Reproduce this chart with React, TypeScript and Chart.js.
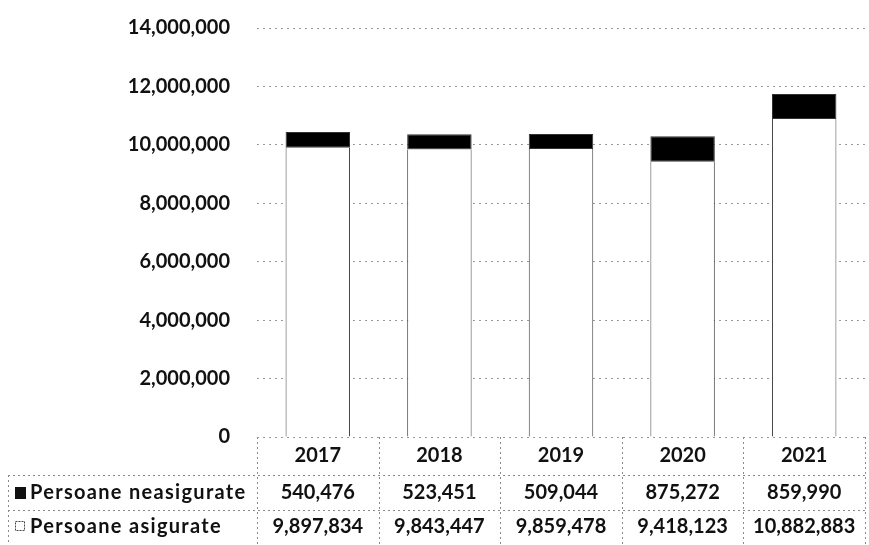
import React, { useEffect, useRef } from "react";
import { Chart, registerables } from "chart.js";

Chart.register(...registerables);

const categories = ["2017", "2018", "2019", "2020", "2021"];
const neasigurate = [540476, 523451, 509044, 875272, 859990];
const asigurate = [9897834, 9843447, 9859478, 9418123, 10882883];
const seriesNames = ["Persoane neasigurate", "Persoane asigurate"];
const yTicks = [0, 2000000, 4000000, 6000000, 8000000, 10000000, 12000000, 14000000];

const FONT = "Lato";
const fmt = (v: number) => v.toLocaleString("en-US");

const tablePlugin = {
  id: "dataTable",
  afterDraw(chart: any) {
    const ctx = chart.ctx as CanvasRenderingContext2D;
    const area = chart.chartArea;
    const n = categories.length;
    const colW = (area.right - area.left) / n;
    const headerY = 456;
    const row1Y = 493;
    const row2Y = 527;
    const line1 = 475;
    const line2 = 510;
    const bottom = 545;
    const tableLeft = 8;
    ctx.save();
    ctx.strokeStyle = "#8a8a8a";
    ctx.lineWidth = 1;
    ctx.setLineDash([2, 3]);
    for (let i = 0; i <= n; i++) {
      const x = Math.round(area.left + i * colW) + 0.5;
      ctx.beginPath();
      ctx.moveTo(x, area.bottom);
      ctx.lineTo(x, bottom);
      ctx.stroke();
    }
    ctx.beginPath();
    ctx.moveTo(tableLeft + 0.5, line1);
    ctx.lineTo(tableLeft + 0.5, bottom);
    ctx.stroke();
    for (const y of [line1, line2]) {
      ctx.beginPath();
      ctx.moveTo(tableLeft, y + 0.5);
      ctx.lineTo(area.right, y + 0.5);
      ctx.stroke();
    }
    ctx.setLineDash([]);
    ctx.fillStyle = "#111";
    ctx.font = `bold 20px ${FONT}`;
    ctx.textAlign = "center";
    ctx.textBaseline = "middle";
    const xs = chart.scales.x;
    categories.forEach((c, i) => {
      const x = xs.getPixelForValue(i);
      ctx.fillText(c, x, headerY);
      ctx.fillText(fmt(neasigurate[i]), x, row1Y);
      ctx.fillText(fmt(asigurate[i]), x, row2Y);
    });
    ctx.textAlign = "left";
    ctx.fillRect(15, row1Y - 6, 11, 12);
    ctx.strokeStyle = "#444";
    ctx.setLineDash([2, 1]);
    ctx.strokeRect(15.5, row2Y - 5.5, 9, 9);
    ctx.setLineDash([]);
    (ctx as any).letterSpacing = "1.3px";
    ctx.fillText(seriesNames[0], 30, row1Y);
    ctx.fillText(seriesNames[1], 30, row2Y);
    (ctx as any).letterSpacing = "0px";
    ctx.restore();
  },
};

export default function App() {
  const ref = useRef<HTMLCanvasElement>(null);
  useEffect(() => {
    if (!ref.current) return;
    const chart = new Chart(ref.current, {
      type: "bar",
      data: {
        labels: categories,
        datasets: [
          {
            label: seriesNames[1],
            data: asigurate,
            backgroundColor: "#ffffff",
            borderColor: "#444444",
            borderWidth: { left: 1, right: 1, top: 0, bottom: 0 },
            borderSkipped: false,
            categoryPercentage: 1,
            barPercentage: 0.53,
          },
          {
            label: seriesNames[0],
            data: neasigurate,
            backgroundColor: "#000000",
            borderColor: "#333333",
            borderWidth: 1,
            borderSkipped: false,
            categoryPercentage: 1,
            barPercentage: 0.53,
          },
        ],
      },
      options: {
        animation: false,
        responsive: false,
        layout: { padding: { left: 0, right: 4, top: 28, bottom: 108 } },
        plugins: { legend: { display: false }, tooltip: { enabled: false } },
        scales: {
          x: { stacked: true, display: false },
          y: {
            stacked: true,
            min: 0,
            max: 14000000,
            afterFit(scale: any) {
              scale.width = 257;
              scale.paddingTop = 0;
              scale.paddingBottom = 0;
            },
            afterBuildTicks(scale: any) {
              scale.ticks = yTicks.map((v) => ({ value: v }));
            },
            border: { display: false, dash: [2, 4] },
            grid: {
              color: "#9a9a9a",
              drawTicks: false,
            },
            ticks: {
              padding: 27,
              color: "#111",
              font: { family: FONT, weight: "bold", size: 20 },
              callback: (v: any) => fmt(Number(v)),
            },
          },
        },
      },
      plugins: [tablePlugin],
    });
    return () => chart.destroy();
  }, []);
  return (
    <div style={{ position: "fixed", left: 0, top: 0, width: 869, height: 545, background: "#fff" }}>
      <canvas ref={ref} width={869} height={545} style={{ width: 869, height: 545 }} />
    </div>
  );
}
